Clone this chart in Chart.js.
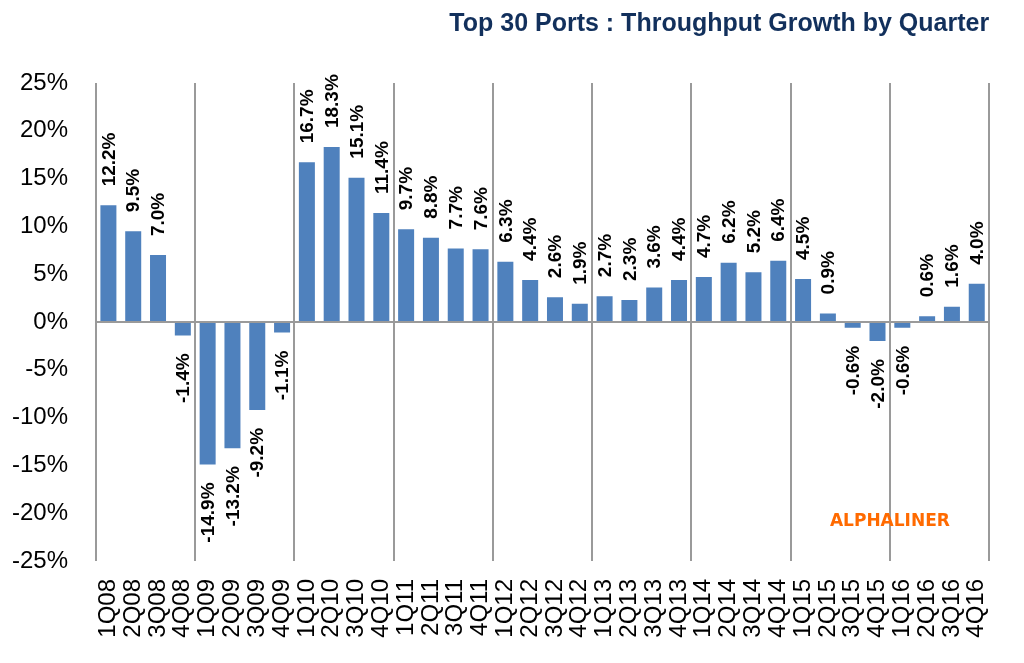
<!DOCTYPE html>
<html>
<head>
<meta charset="utf-8">
<script src="https://cdn.jsdelivr.net/npm/chart.js@4.4.1/dist/chart.umd.min.js"></script>
<style>
  html, body { margin: 0; padding: 0; background: #ffffff; }
  #wrap { width: 1024px; height: 663px; position: relative; }
</style>
</head>
<body>
<div id="wrap"><canvas id="c" width="1024" height="663"></canvas></div>
<script>
const categories = [
  '1Q08','2Q08','3Q08','4Q08',
  '1Q09','2Q09','3Q09','4Q09',
  '1Q10','2Q10','3Q10','4Q10',
  '1Q11','2Q11','3Q11','4Q11',
  '1Q12','2Q12','3Q12','4Q12',
  '1Q13','2Q13','3Q13','4Q13',
  '1Q14','2Q14','3Q14','4Q14',
  '1Q15','2Q15','3Q15','4Q15',
  '1Q16','2Q16','3Q16','4Q16'
];
const growth = [
  12.2, 9.5, 7.0, -1.4,
  -14.9, -13.2, -9.2, -1.1,
  16.7, 18.3, 15.1, 11.4,
  9.7, 8.8, 7.7, 7.6,
  6.3, 4.4, 2.6, 1.9,
  2.7, 2.3, 3.6, 4.4,
  4.7, 6.2, 5.2, 6.4,
  4.5, 0.9, -0.6, -2.0,
  -0.6, 0.6, 1.6, 4.0
];
const yTicks = [-25, -20, -15, -10, -5, 0, 5, 10, 15, 20, 25];
const titleText = 'Top 30 Ports : Throughput Growth by Quarter';
const sourceText = 'ALPHALINER';

const GRID = '#9a9a9a';

const extras = {
  id: 'extras',
  afterDatasetsDraw(chart) {
    const ctx = chart.ctx;
    const meta = chart.getDatasetMeta(0);
    ctx.save();
    ctx.fillStyle = '#000000';
    ctx.font = 'bold 19px "Liberation Sans", Arial, sans-serif';
    ctx.textBaseline = 'middle';
    meta.data.forEach((bar, i) => {
      const v = growth[i];
      const label = v.toFixed(1) + '%';
      ctx.save();
      if (v >= 0) {
        ctx.translate(bar.x + 1, bar.y - 19);
        ctx.rotate(-Math.PI / 2);
        ctx.textAlign = 'left';
      } else {
        ctx.translate(bar.x + 1, bar.y + 18);
        ctx.rotate(-Math.PI / 2);
        ctx.textAlign = 'right';
      }
      ctx.fillText(label, 0, 0);
      ctx.restore();
    });
    ctx.restore();
  },
  afterDraw(chart) {
    const ctx = chart.ctx;
    ctx.save();
    ctx.fillStyle = '#12305c';
    ctx.font = 'bold 25px "Liberation Sans", Arial, sans-serif';
    ctx.textAlign = 'right';
    ctx.textBaseline = 'alphabetic';
    ctx.fillText(titleText, chart.chartArea.right, 31);

    const xs = chart.scales.x, ys = chart.scales.y;
    const cx = (xs.getPixelForValue(31) + xs.getPixelForValue(32)) / 2;
    const cy = ys.getPixelForValue(-20.9);
    ctx.fillStyle = '#ff6a00';
    ctx.font = 'bold 17px "DejaVu Sans", Verdana, sans-serif';
    ctx.textAlign = 'center';
    ctx.textBaseline = 'middle';
    ctx.fillText(sourceText, cx, cy);
    ctx.restore();
  }
};

new Chart(document.getElementById('c'), {
  type: 'bar',
  data: {
    labels: categories,
    datasets: [{
      data: growth,
      backgroundColor: '#4f81bd',
      borderWidth: 0,
      barPercentage: 0.645,
      categoryPercentage: 1.0
    }]
  },
  options: {
    responsive: false,
    animation: false,
    devicePixelRatio: 1,
    layout: { padding: { top: 83, right: 33, bottom: 0, left: 0 } },
    plugins: {
      legend: { display: false },
      tooltip: { enabled: false },
      title: { display: false }
    },
    scales: {
      x: {
        offset: true,
        border: { display: false },
        grid: {
          offset: true,
          drawTicks: false,
          lineWidth: 2,
          color: (c) => (c.index === undefined || c.index % 4 === 0) ? GRID : 'rgba(0,0,0,0)'
        },
        ticks: {
          autoSkip: false,
          maxRotation: 90,
          minRotation: 90,
          padding: 18,
          color: '#000000',
          font: { family: '"Liberation Sans", Arial, sans-serif', size: 24 }
        },
        afterFit: (s) => { s.height = 102; }
      },
      y: {
        min: -25,
        max: 25,
        border: { display: false },
        afterBuildTicks: (s) => { s.ticks = yTicks.map(v => ({ value: v })); },
        grid: {
          drawTicks: false,
          lineWidth: 2,
          color: (c) => (c.tick && c.tick.value === 0) ? GRID : 'rgba(0,0,0,0)'
        },
        ticks: {
          padding: 28,
          color: '#000000',
          font: { family: '"Liberation Sans", Arial, sans-serif', size: 24 },
          callback: (v) => v + '%'
        },
        afterFit: (s) => { s.width = 96; }
      }
    }
  },
  plugins: [extras]
});
</script>
</body>
</html>
